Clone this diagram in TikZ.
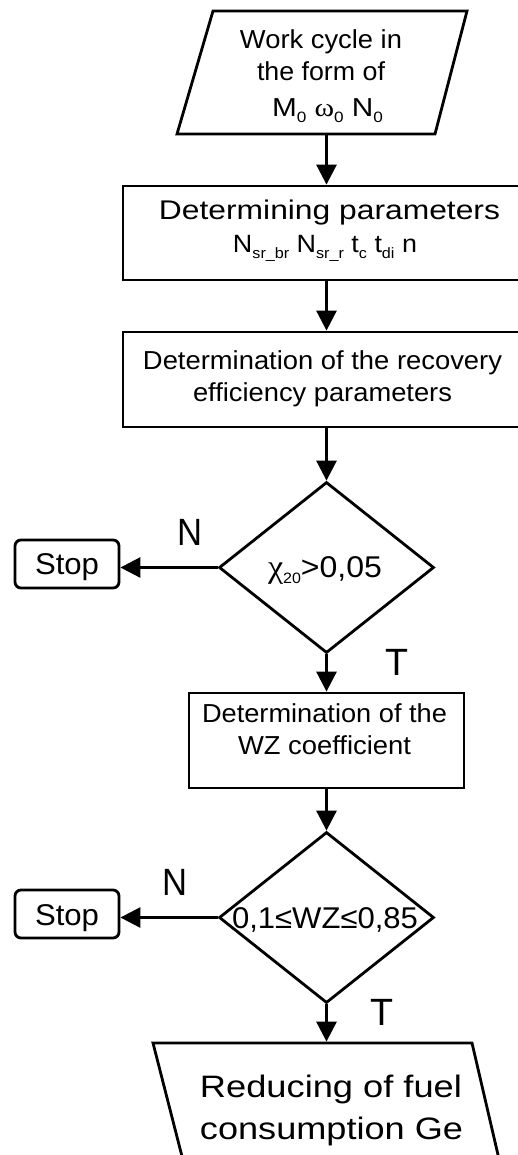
\documentclass[tikz,border=0pt]{standalone}
\usepackage{fontspec}
\setmainfont{Liberation Sans}
\newfontfamily\grk{Liberation Serif}
\usepackage{graphicx}
\usetikzlibrary{arrows.meta,shapes.geometric}
\newcommand{\fs}[1]{\fontsize{#1pt}{#1pt}\selectfont}
\newcommand{\W}[2]{\resizebox{#1pt}{\height}{#2}}
\newcommand{\lowsub}[1]{\raisebox{-6pt}{\fs{15}#1}}
\begin{document}
\begin{tikzpicture}[x=1pt,y=-1pt,line width=2.8pt,
  box/.style={draw, rectangle, inner sep=0pt},
  dia/.style={draw, diamond, inner sep=0pt, minimum width=215pt, minimum height=171pt},
  stopbox/.style={draw, rectangle, rounded corners=6pt, inner sep=0pt, minimum width=104pt, minimum height=48pt},
  ghost/.style={rectangle, inner sep=0pt, minimum width=200pt},
  txt/.style={anchor=base, inner sep=0pt},
  lbl/.style={anchor=base, inner sep=0pt, font=\fs{38}},
  arr/.style={-{Triangle[length=20pt,width=20pt]}}]
\useasboundingbox (0,0) rectangle (518,1155);
\fill[white] (0,0) rectangle (518,1155);
\clip (0,0) rectangle (518,1155);

% shapes
\node[ghost, minimum height=123pt] (in) at (326.5,72.5) {};
\draw (213,11) -- (467,11) -- (435,134) -- (177,134) -- cycle;
\node[box, minimum width=407pt, minimum height=94pt] (b1) at (326.5,233) {};
\node[box, minimum width=407pt, minimum height=95pt] (b2) at (326.5,379.5) {};
\node[dia] (d1) at (326.5,567.5) {};
\node[stopbox] (s1) at (67,564) {};
\node[box, minimum width=275pt, minimum height=95pt] (b3) at (326.5,740.5) {};
\node[dia] (d2) at (326.5,917.5) {};
\node[stopbox] (s2) at (67,914) {};
\node[ghost, minimum height=120pt] (out) at (326.5,1103) {};
\draw (186,1172) -- (153,1043) -- (472,1043) -- (502,1172);

% texts
\node[txt, font=\fs{26}] (t1) at (321,49) {\W{162}{Work cycle in}};
\node[txt, font=\fs{26}] (t2) at (321,81) {\W{128}{the form of}};
\node[txt, font=\fs{26}] (t3) at (327.5,117) {\W{111}{M\lowsub{0} {\grk ω}\lowsub{0} N\lowsub{0}}};
\node[txt, font=\fs{27}] (p1) at (329.5,220) {\W{341}{Determining parameters}};
\node[txt, font=\fs{25}] (p2) at (325,253) {\W{184}{N\lowsub{sr\_br} N\lowsub{sr\_r} t\lowsub{c} t\lowsub{di} n}};
\node[txt, font=\fs{26}] (r1) at (322.5,369) {\W{359}{Determination of the recovery}};
\node[txt, font=\fs{26}] (r2) at (322.5,401) {\W{259}{efficiency parameters}};
\node[txt, font=\fs{30}] (c1) at (325,577) {\W{114}{{\fs{32}\grk χ}\lowsub{20}>0,05}};
\node[txt, font=\fs{30}] (x1) at (67,574) {\W{64}{Stop}};
\node[txt, font=\fs{26}] (w1) at (324.5,722) {\W{245}{Determination of the}};
\node[txt, font=\fs{26}] (w2) at (324.5,754) {\W{173}{WZ coefficient}};
\node[txt, font=\fs{30}] (c2) at (325,928) {\W{186}{0,1≤WZ≤0,85}};
\node[txt, font=\fs{30}] (x2) at (67,925) {\W{64}{Stop}};
\node[txt, font=\fs{31}] (g1) at (331,1097) {\W{262}{Reducing of fuel}};
\node[txt, font=\fs{31}] (g2) at (331.5,1139) {\W{263}{consumption Ge}};

% branch labels
\node[lbl] (n1) at (190,545) {\W{25}{N}};
\node[lbl] (y1) at (397,675) {\W{23}{T}};
\node[lbl] (n2) at (175,895) {\W{25}{N}};
\node[lbl] (y2) at (382,1025) {\W{23}{T}};

% connectors
\draw[arr] (in.south) -- (b1.north);
\draw[arr] (b1.south) -- (b2.north);
\draw[arr] (b2.south) -- (d1.north);
\draw[arr] (d1.west) -- (s1.east |- d1.west);
\draw[arr] (d1.south) -- (b3.north);
\draw[arr] (b3.south) -- (d2.north);
\draw[arr] (d2.west) -- (s2.east |- d2.west);
\draw[arr] (d2.south) -- (out.north);
\end{tikzpicture}
\end{document}
